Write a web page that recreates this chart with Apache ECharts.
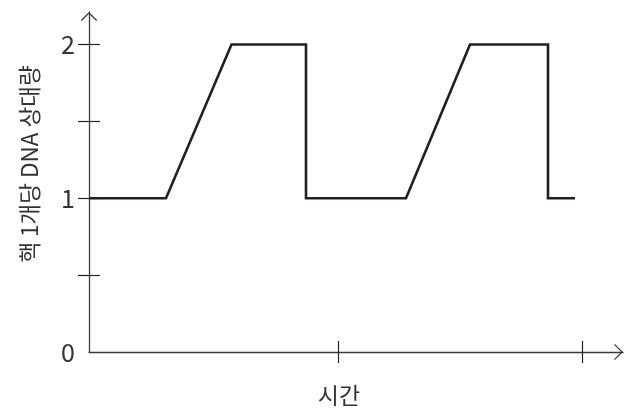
<!DOCTYPE html>
<html>
<head>
<meta charset="utf-8">
<script src="https://cdn.jsdelivr.net/npm/echarts@6/dist/echarts.min.js"></script>
<style>
html,body{margin:0;padding:0;background:#fff;}
#c{width:634px;height:410px;}
</style>
</head>
<body>
<div id="c"></div>
<script>
// time in arbitrary units, relative DNA amount per nucleus
const timeValues = [0, 7.7, 14.25, 21.7, 21.7, 31.7, 38.1, 45.9, 45.9, 48.6];
const dnaValues  = [1, 1, 2, 2, 1, 1, 2, 2, 1, 1];
const xTickValues = [24.9, 49.3];
const yTickValues = [0.5, 1, 1.5, 2];
const yLabelValues = [0, 1, 2];
const xAxisName = '시간';
const yAxisName = '핵 1개당 DNA 상대량';

const FONT = '"Noto Sans CJK KR", "Noto Sans", sans-serif';
const AXIS_COLOR = '#3a3a3a';
const chevron = 'path://M0,9 L9,0 L18,9 L17,10 L9,2 L1,10 Z';

const seriesData = timeValues.map((t, i) => [t, dnaValues[i]]);

const chart = echarts.init(document.getElementById('c'), null, {renderer: 'canvas'});
chart.setOption({
  animation: false,
  backgroundColor: '#fff',
  grid: {left: 89, right: 11, top: 12, bottom: 58, containLabel: false, outerBoundsMode: 'none'},
  xAxis: [{
    type: 'value', min: 0, max: 53.4, position: 'bottom',
    axisLine: {show: true, onZero: false, symbol: ['none', chevron], symbolSize: [18, 9], symbolOffset: [0, -4.5],
      lineStyle: {color: AXIS_COLOR, width: 1.3}},
    axisTick: {show: true, inside: false, length: 11, customValues: xTickValues, lineStyle: {color: '#222', width: 1.2}},
    axisLabel: {show: false},
    splitLine: {show: false},
    name: xAxisName, nameLocation: 'middle', nameGap: 32,
    nameTextStyle: {fontFamily: FONT, fontSize: 23, color: '#333', padding: [0, 34, 0, 0]}
  }, {
    type: 'value', min: 0, max: 53.4, position: 'bottom', gridIndex: 0,
    axisLine: {show: false, onZero: false},
    axisTick: {show: true, inside: true, length: 11, customValues: xTickValues, lineStyle: {color: '#222', width: 1.2}},
    axisLabel: {show: false},
    splitLine: {show: false}
  }],
  yAxis: [{
    type: 'value', min: 0, max: 2.211, position: 'left',
    axisLine: {show: true, onZero: false, symbol: ['none', chevron], symbolSize: [18, 9], symbolOffset: [0, -4.5],
      lineStyle: {color: AXIS_COLOR, width: 1.3}},
    axisTick: {show: true, inside: false, length: 11, customValues: yTickValues, lineStyle: {color: '#222', width: 1.2}},
    axisLabel: {show: true, customValues: yLabelValues, margin: 14, fontFamily: FONT, fontSize: 25, color: '#333'},
    splitLine: {show: false},
    name: yAxisName, nameLocation: 'middle', nameGap: 48,
    nameTextStyle: {fontFamily: FONT, fontSize: 22.5, color: '#333', padding: [0, 0, 0, 36]}
  }, {
    type: 'value', min: 0, max: 2.211, position: 'left',
    axisLine: {show: false, onZero: false},
    axisTick: {show: true, inside: true, length: 11, customValues: yTickValues, lineStyle: {color: '#222', width: 1.2}},
    axisLabel: {show: false},
    splitLine: {show: false}
  }],
  series: [{
    type: 'line',
    xAxisIndex: 0, yAxisIndex: 0,
    data: seriesData,
    showSymbol: false, symbol: 'none',
    lineStyle: {color: '#231f20', width: 2.6, join: 'miter', cap: 'butt'},
    clip: false
  }]
});
</script>
</body>
</html>
